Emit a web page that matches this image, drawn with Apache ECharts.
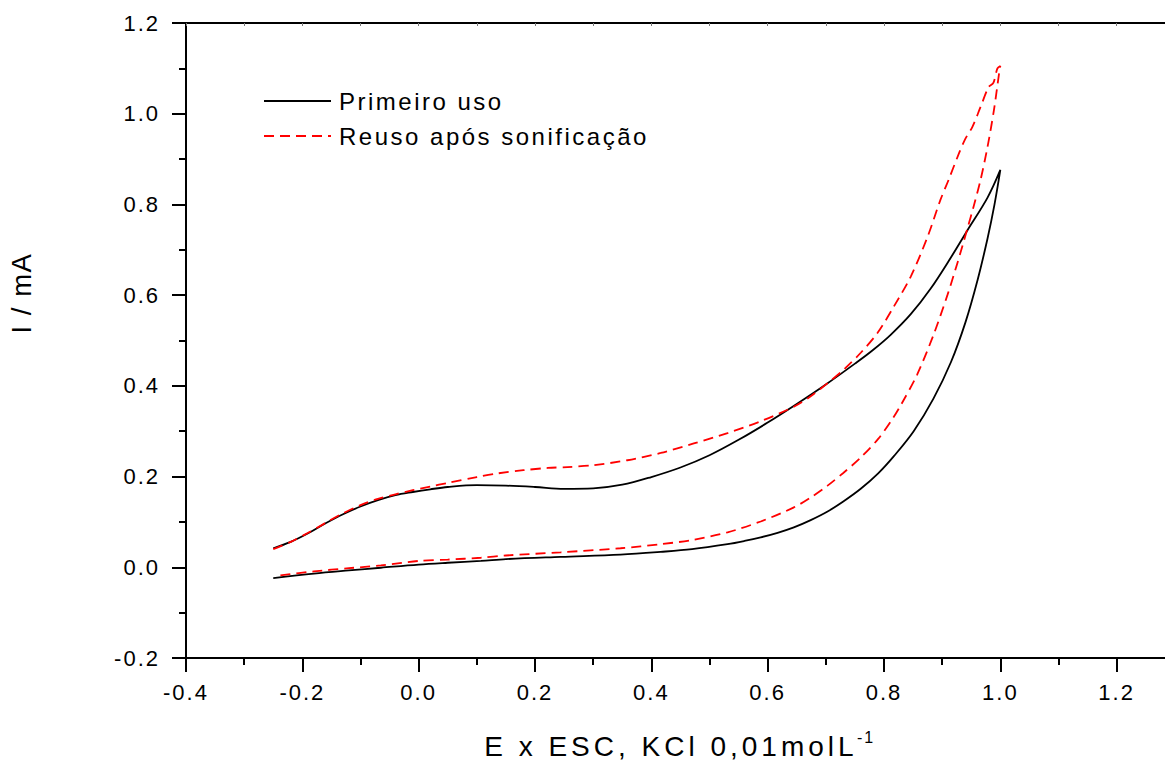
<!DOCTYPE html>
<html>
<head>
<meta charset="utf-8">
<script src="https://cdn.jsdelivr.net/npm/echarts@6/dist/echarts.min.js"></script>
<style>
html,body{margin:0;padding:0;background:#fff;}
#chart{width:1165px;height:765px;}
#chart svg text{letter-spacing:2px;}
#chart svg text[style*="24px"]{letter-spacing:2.5px;}
#chart svg text[style*="28px"]{letter-spacing:4px;}
#chart svg text[style*="27.5px"]{letter-spacing:1.5px;}
</style>
</head>
<body>
<div id="chart"></div>
<script>
// ---- Data ----
const seriesNames = ['Primeiro uso', 'Reuso após sonificação'];

// Primeiro uso: forward scan then return scan
const firstUseE = [-0.25,-0.22,-0.19,-0.16,-0.13,-0.10,-0.07,-0.04,-0.01,0.02,0.05,0.10,0.15,0.20,0.25,0.30,0.35,0.40,0.45,0.50,0.55,0.60,0.65,0.70,0.75,0.78,0.811,0.846,0.88,0.915,0.943,0.978,1.00,
  0.99,0.978,0.961,0.94,0.915,0.885,0.851,0.817,0.79,0.76,0.73,0.703,0.674,0.645,0.617,0.588,0.56,0.531,0.47,0.416,0.347,0.244,0.15,0.107,0.05,0.00,-0.065,-0.12,-0.18,-0.25];
const firstUseI = [0.042,0.056,0.075,0.097,0.117,0.134,0.148,0.159,0.166,0.172,0.177,0.181,0.180,0.177,0.173,0.174,0.182,0.199,0.220,0.247,0.281,0.319,0.360,0.403,0.449,0.478,0.512,0.558,0.614,0.683,0.742,0.815,0.876,
  0.800,0.725,0.634,0.540,0.452,0.372,0.300,0.245,0.207,0.173,0.145,0.123,0.104,0.088,0.076,0.066,0.058,0.051,0.040,0.034,0.028,0.023,0.018,0.014,0.010,0.006,-0.001,-0.007,-0.014,-0.024];

// Reuso após sonificação
const reuseE = [-0.25,-0.22,-0.19,-0.16,-0.13,-0.10,-0.07,-0.04,-0.01,0.02,0.05,0.10,0.136,0.18,0.222,0.256,0.30,0.359,0.416,0.473,0.531,0.588,0.645,0.674,0.703,0.731,0.760,0.789,0.817,0.846,0.875,0.897,0.911,0.929,0.94,0.952,0.966,0.98,0.988,0.995,1.00,
  0.998,0.989,0.978,0.966,0.955,0.943,0.926,0.909,0.885,0.857,0.83,0.815,0.79,0.760,0.73,0.703,0.674,0.645,0.588,0.531,0.47,0.416,0.347,0.244,0.15,0.107,0.05,0.00,-0.065,-0.12,-0.18,-0.24];
const reuseI = [0.040,0.056,0.076,0.098,0.119,0.137,0.151,0.161,0.170,0.178,0.186,0.199,0.207,0.214,0.219,0.221,0.225,0.236,0.252,0.273,0.296,0.322,0.354,0.377,0.406,0.436,0.473,0.517,0.575,0.641,0.729,0.810,0.854,0.913,0.945,0.971,1.015,1.059,1.068,1.100,1.105,
  1.090,1.008,0.927,0.854,0.800,0.745,0.670,0.600,0.512,0.425,0.360,0.328,0.283,0.242,0.208,0.180,0.154,0.132,0.101,0.077,0.060,0.051,0.042,0.033,0.026,0.021,0.017,0.014,0.004,-0.002,-0.009,-0.018];

const xTickLabels = ['-0.4','-0.2','0.0','0.2','0.4','0.6','0.8','1.0','1.2'];
const yTickLabels = ['-0.2','0.0','0.2','0.4','0.6','0.8','1.0','1.2'];

const xTitle = 'E x ESC, KCl 0,01molL';
const xTitleSup = '-1';
const yTitle = 'I / mA';

// ---- Chart ----
const FONT = '"Liberation Sans", Arial, sans-serif';
const pairs = (xs, ys) => xs.map((x, i) => [x, ys[i]]);
const fmt = list => v => { const s = (Math.abs(v) < 1e-9 ? 0 : v).toFixed(1); return list.includes(s) ? s : ''; };

const chart = echarts.init(document.getElementById('chart'), null, {renderer: 'svg'});
chart.setOption({
  animation: false,
  backgroundColor: '#fff',
  grid: {left: 186, top: 23, width: 1047, height: 635, outerBoundsMode: 'none', containLabel: false},
  legend: {
    orient: 'vertical', left: 263, top: 89, padding: 0,
    itemWidth: 67, itemHeight: 14, itemGap: 11,
    itemStyle: {opacity: 0},
    textStyle: {fontSize: 24, color: '#000', fontFamily: FONT, padding: [0, 0, 0, 3]},
    data: seriesNames
  },
  xAxis: [{
    type: 'value', position: 'bottom', min: -0.4, max: 1.4, interval: 0.2,
    axisLine: {onZero: false, lineStyle: {color: '#000', width: 2}},
    axisTick: {length: 14, lineStyle: {color: '#000', width: 2}},
    minorTick: {show: true, splitNumber: 2, length: 7, lineStyle: {color: '#000', width: 2}},
    splitLine: {show: false},
    axisLabel: {fontSize: 22, color: '#000', fontFamily: FONT, margin: 23, showMaxLabel: false, formatter: fmt(xTickLabels)},
    name: '{m|' + xTitle + '}{s|' + xTitleSup + '}',
    nameLocation: 'middle', nameGap: 71,
    nameTextStyle: {
      padding: [0, 63, 0, 0],
      rich: {
        m: {fontSize: 28, width: 376, color: '#000', fontFamily: FONT},
        s: {fontSize: 16, padding: [0, 0, 19, 0], color: '#000', fontFamily: FONT}
      }
    }
  }, {
    type: 'value', position: 'top', min: -0.4, max: 1.4, interval: 0.1,
    axisLine: {onZero: false, lineStyle: {color: '#000', width: 2}},
    axisTick: {inside: true, length: 3, lineStyle: {color: '#777', width: 1}},
    axisLabel: {show: false},
    splitLine: {show: false}
  }],
  yAxis: {
    type: 'value', min: -0.2, max: 1.2, interval: 0.2,
    axisLine: {onZero: false, lineStyle: {color: '#000', width: 2}},
    axisTick: {length: 14, lineStyle: {color: '#000', width: 2}},
    minorTick: {show: true, splitNumber: 2, length: 7, lineStyle: {color: '#000', width: 2}},
    splitLine: {show: false},
    axisLabel: {fontSize: 22, color: '#000', fontFamily: FONT, margin: 26, formatter: fmt(yTickLabels)},
    name: yTitle, nameLocation: 'middle', nameGap: 151,
    nameTextStyle: {fontSize: 27.5, color: '#000', fontFamily: FONT, padding: [0, 0, 0, 95]}
  },
  series: [{
    name: seriesNames[0], type: 'line', xAxisIndex: 0,
    data: pairs(firstUseE, firstUseI),
    showSymbol: false, symbol: 'none', smooth: 0.35,
    itemStyle: {color: '#000'},
    lineStyle: {color: '#000', width: 1.8}
  }, {
    name: seriesNames[1], type: 'line', xAxisIndex: 0,
    data: pairs(reuseE, reuseI),
    showSymbol: false, symbol: 'none', smooth: 0.3,
    itemStyle: {color: '#ff0000'},
    lineStyle: {color: '#ff0000', width: 1.8, type: [10, 6]}
  }]
});
</script>
</body>
</html>
